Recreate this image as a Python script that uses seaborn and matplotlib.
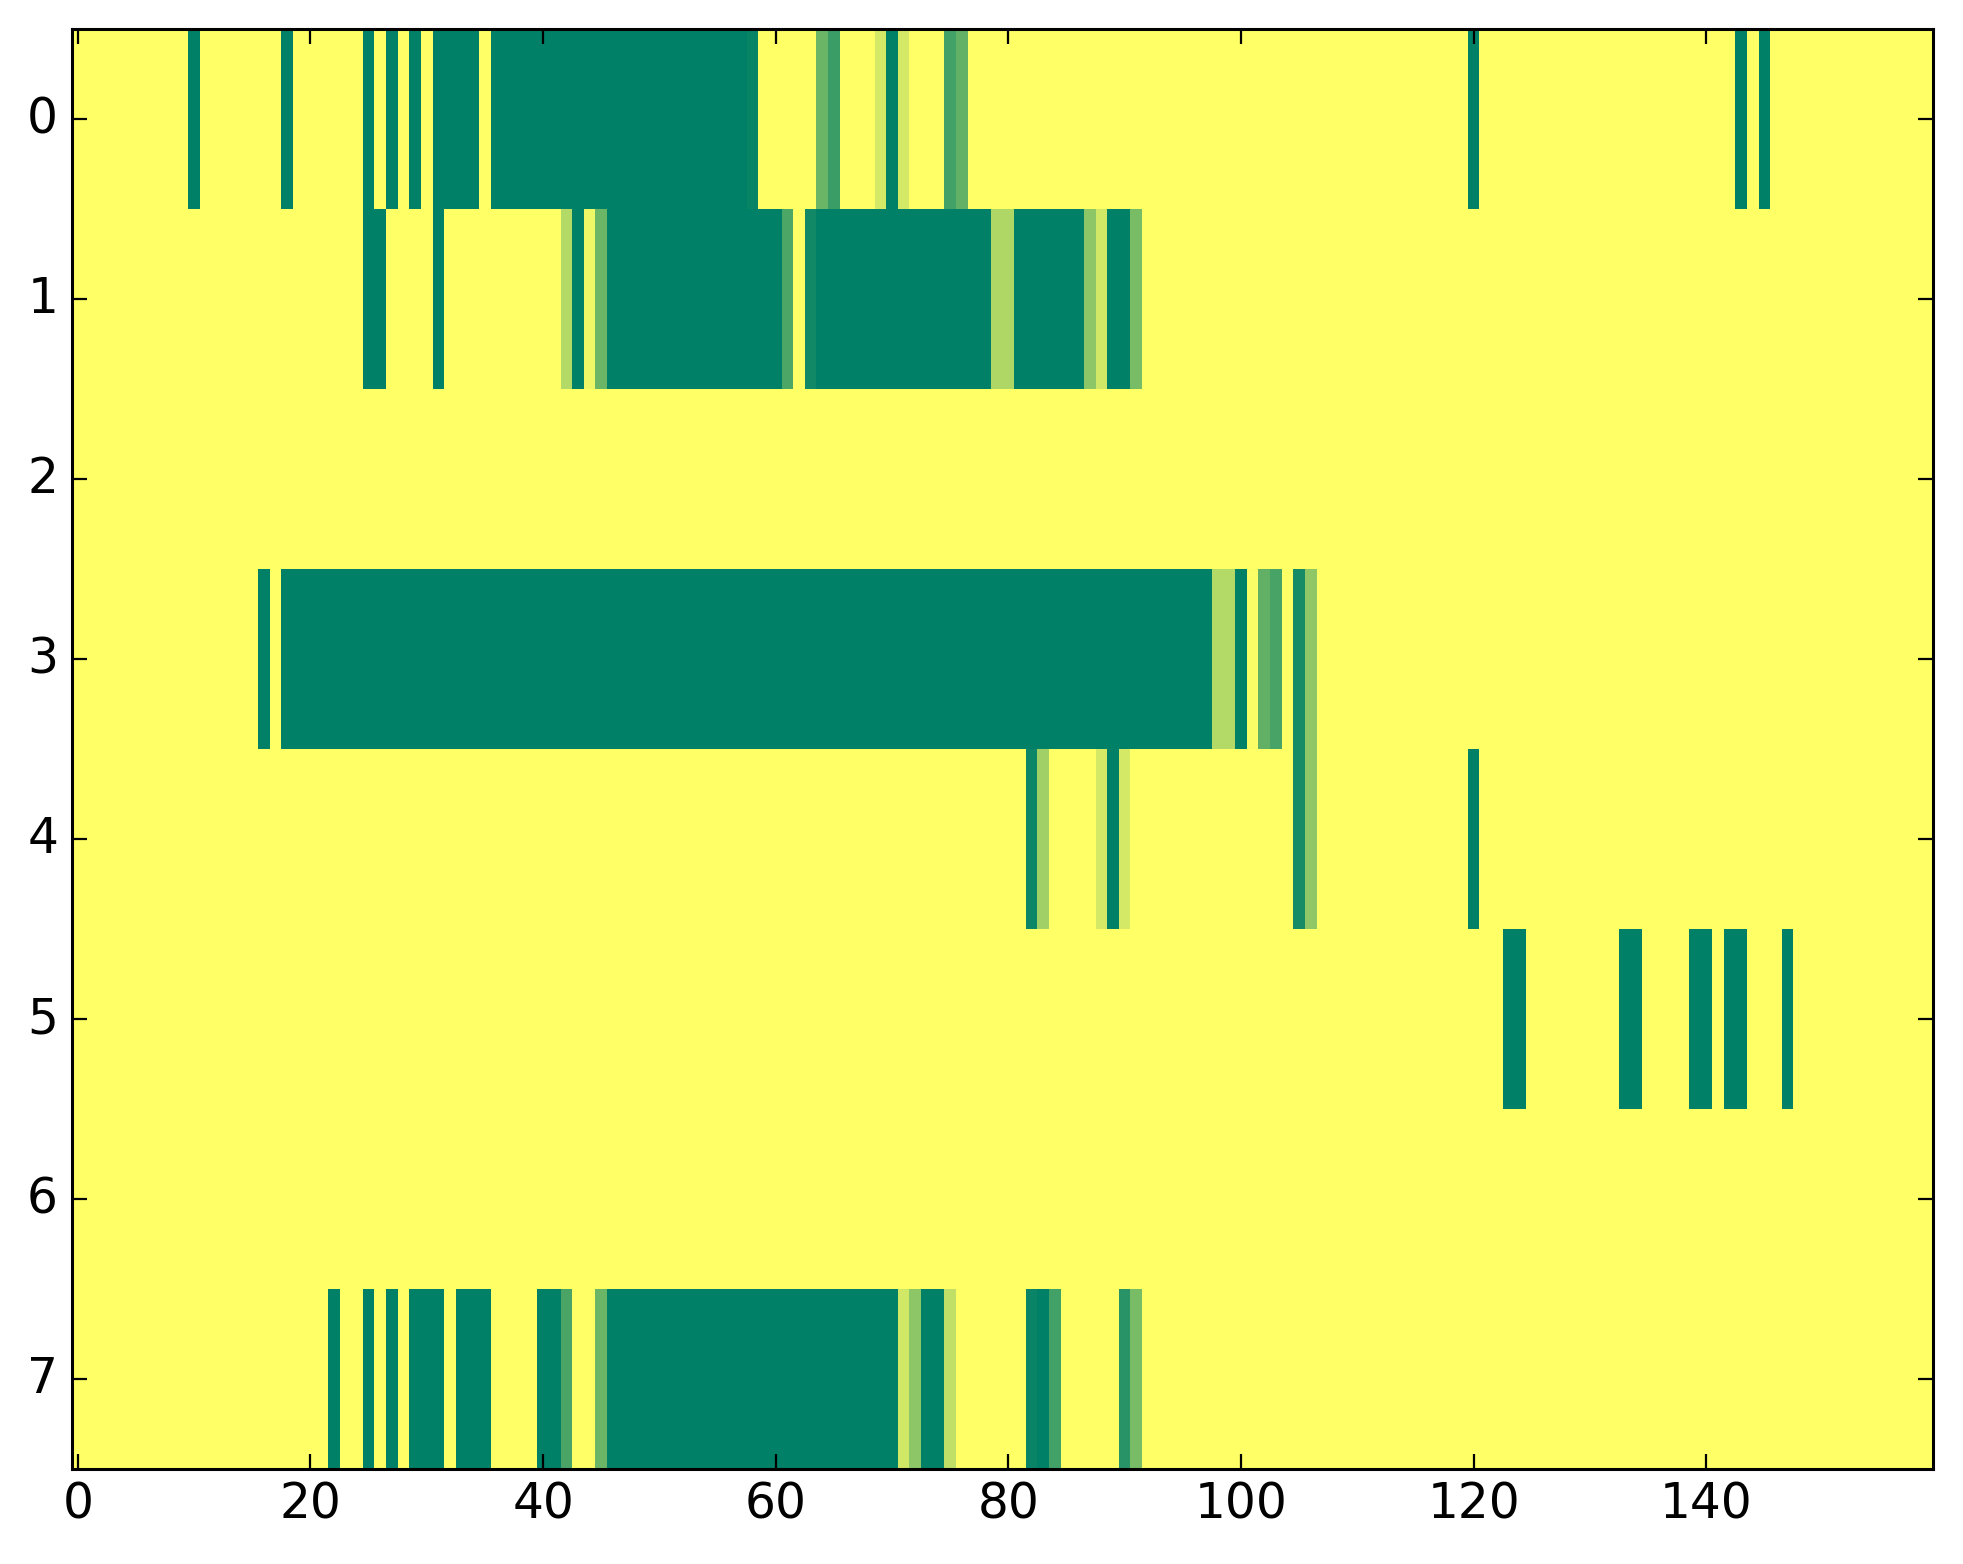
import numpy as np
import pandas as pd
import matplotlib
matplotlib.use("Agg")
import matplotlib.pyplot as plt
import seaborn as sns

n_cols = 160
row_labels = [0, 1, 2, 3, 4, 5, 6, 7]
x_tick_labels = [0, 20, 40, 60, 80, 100, 120, 140]

# runs per row: (first column, last column, value)
row0 = [(10, 10, 1), (18, 18, 1), (25, 25, 1), (27, 27, 1), (29, 29, 1),
        (31, 34, 1), (36, 57, 1), (58, 58, 0.97), (64, 64, 0.58), (65, 65, 0.77),
        (69, 69, 0.17), (70, 70, 1), (71, 71, 0.17), (75, 75, 0.74), (76, 76, 0.61),
        (120, 120, 1), (143, 143, 1), (145, 145, 1)]
row1 = [(25, 26, 1), (31, 31, 1), (42, 42, 0.30), (43, 43, 1), (44, 44, 0.07),
        (45, 45, 0.58), (46, 60, 1), (61, 61, 0.70), (63, 63, 0.93), (64, 78, 1),
        (79, 80, 0.32), (81, 86, 1), (87, 87, 0.45), (88, 88, 0.18), (89, 90, 1),
        (91, 91, 0.53)]
row2 = []
row3 = [(16, 16, 1), (18, 97, 1), (98, 99, 0.30), (100, 100, 1), (101, 101, 0.02),
        (102, 102, 0.62), (103, 103, 0.72), (105, 105, 0.91), (106, 106, 0.44)]
row4 = [(82, 82, 0.95), (83, 83, 0.37), (88, 88, 0.17), (89, 89, 1), (90, 90, 0.17),
        (105, 105, 0.91), (106, 106, 0.44), (120, 120, 1)]
row5 = [(123, 124, 1), (133, 134, 1), (139, 140, 1), (142, 143, 1), (147, 147, 1)]
row6 = []
row7 = [(22, 22, 1), (25, 25, 1), (27, 27, 1), (29, 31, 1), (33, 35, 1), (40, 41, 1),
        (42, 42, 0.71), (45, 45, 0.58), (46, 70, 1), (71, 71, 0.18), (72, 72, 0.45),
        (73, 74, 1), (75, 75, 0.25), (82, 82, 0.96), (83, 83, 1), (84, 84, 0.74),
        (90, 90, 0.84), (91, 91, 0.53)]

rows = [row0, row1, row2, row3, row4, row5, row6, row7]
data = np.zeros((len(rows), n_cols))
for i, runs in enumerate(rows):
    for a, b, v in runs:
        data[i, a:b + 1] = v
df = pd.DataFrame(data, index=row_labels)

fig = plt.figure(figsize=(19.63 / 2, 15.64 / 2), dpi=200)
ax = fig.add_axes([72 / 1963, 1 - 1469 / 1564, (1933 - 72) / 1963, (1469 - 29) / 1564])
sns.heatmap(df, ax=ax, cmap="summer_r", vmin=0, vmax=1, cbar=False)

ax.set_xticks(np.array(x_tick_labels) + 0.5)
ax.set_xticklabels([str(v) for v in x_tick_labels], rotation=0)
ax.set_yticks(np.array(row_labels) + 0.5)
ax.set_yticklabels([str(v) for v in row_labels], rotation=0)
ax.set_xlabel("")
ax.set_ylabel("")

for s in ax.spines.values():
    s.set_visible(True)
    s.set_color("black")
    s.set_linewidth(1.1)

ax.tick_params(axis="both", which="major", direction="in", top=True, right=True,
               length=5.4, width=0.8, color="black", labelsize=17.5)
ax.tick_params(axis="x", pad=4)
ax.tick_params(axis="y", pad=5)
for lab in ax.get_xticklabels() + ax.get_yticklabels():
    lab.set_fontfamily("DejaVu Sans")

fig.savefig("out.png", dpi=200)
